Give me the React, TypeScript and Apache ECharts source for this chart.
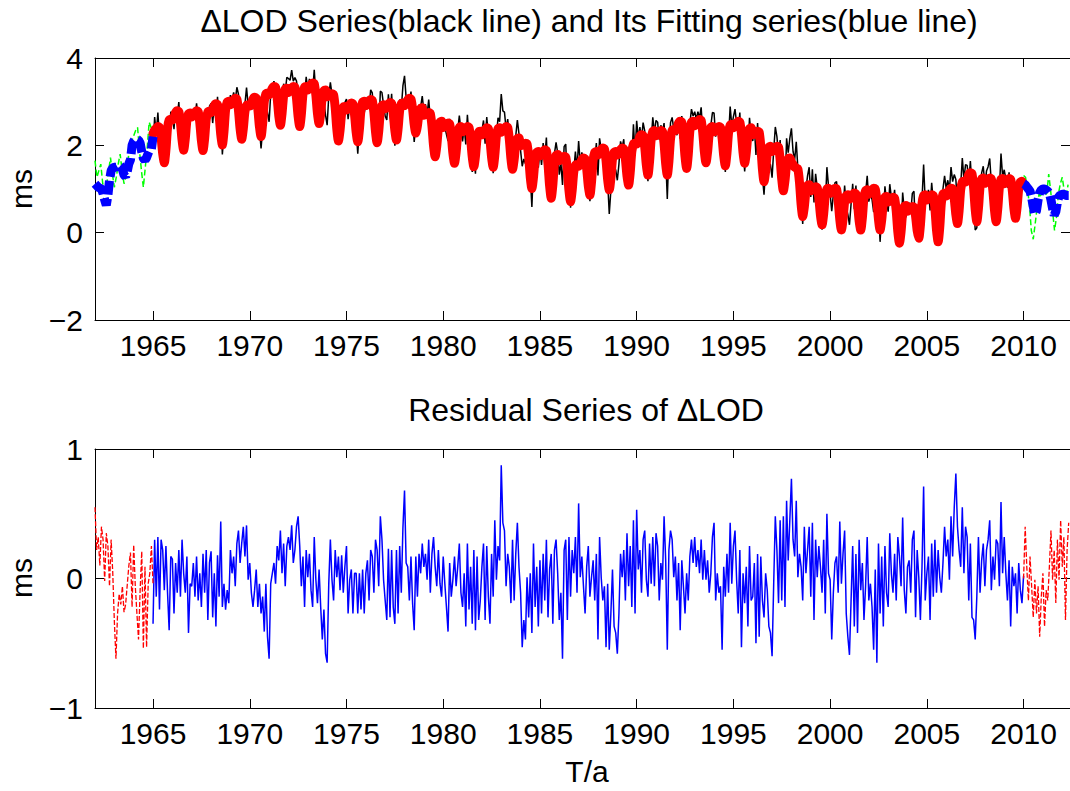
import React, { useEffect, useRef } from "react";
import * as echarts from "echarts";

const FONT = "'Liberation Sans', Arial, Helvetica, sans-serif";
const X_MIN = 1962;
const X_MAX = 2012.4;
const TICK_YEARS = [1965, 1970, 1975, 1980, 1985, 1990, 1995, 2000, 2005, 2010];

const TITLE_TOP = "\u0394LOD Series(black line) and Its Fitting series(blue line)";
const TITLE_BOTTOM = "Residual Series of \u0394LOD";
const Y_NAME = "ms";
const X_NAME = "T/a";

// Fitting series (red), monthly samples from 1965.0 to 2010.0
const FIT_START = 1965;
const fitValues = [
  2.27, 2.35, 2.39, 2.43, 2.41, 2.18, 1.81, 1.60, 1.90, 2.40, 2.58, 2.60,
  2.58, 2.64, 2.75, 2.79, 2.77, 2.52, 2.12, 1.89, 2.15, 2.57, 2.72, 2.74,
  2.65, 2.71, 2.75, 2.79, 2.77, 2.52, 2.11, 1.88, 2.15, 2.60, 2.76, 2.78,
  2.75, 2.81, 2.91, 2.95, 2.93, 2.67, 2.25, 2.01, 2.31, 2.81, 2.99, 3.01,
  2.93, 2.99, 3.04, 3.08, 3.06, 2.80, 2.38, 2.14, 2.38, 2.77, 2.91, 2.93,
  2.90, 2.96, 3.06, 3.10, 3.08, 2.83, 2.43, 2.20, 2.50, 3.00, 3.18, 3.20,
  3.16, 3.22, 3.31, 3.35, 3.33, 3.08, 2.68, 2.46, 2.72, 3.14, 3.29, 3.31,
  3.21, 3.27, 3.31, 3.35, 3.33, 3.07, 2.66, 2.43, 2.71, 3.17, 3.33, 3.35,
  3.27, 3.33, 3.39, 3.43, 3.41, 3.15, 2.73, 2.50, 2.73, 3.12, 3.25, 3.27,
  3.11, 3.17, 3.14, 3.18, 3.16, 2.86, 2.37, 2.10, 2.34, 2.73, 2.87, 2.89,
  2.81, 2.87, 2.93, 2.97, 2.95, 2.70, 2.30, 2.08, 2.36, 2.82, 2.99, 3.01,
  2.91, 2.97, 3.01, 3.05, 3.03, 2.75, 2.31, 2.06, 2.32, 2.76, 2.91, 2.93,
  2.84, 2.90, 2.94, 2.98, 2.96, 2.72, 2.34, 2.12, 2.38, 2.80, 2.95, 2.97,
  2.91, 2.97, 3.04, 3.08, 3.06, 2.84, 2.48, 2.28, 2.45, 2.74, 2.84, 2.86,
  2.69, 2.75, 2.71, 2.75, 2.73, 2.45, 1.99, 1.74, 1.98, 2.39, 2.53, 2.55,
  2.41, 2.47, 2.47, 2.51, 2.49, 2.23, 1.82, 1.59, 1.84, 2.26, 2.41, 2.43,
  2.31, 2.37, 2.39, 2.43, 2.41, 2.15, 1.74, 1.51, 1.75, 2.16, 2.30, 2.32,
  2.24, 2.30, 2.36, 2.40, 2.38, 2.13, 1.73, 1.50, 1.77, 2.22, 2.38, 2.40,
  2.30, 2.36, 2.39, 2.43, 2.41, 2.14, 1.70, 1.45, 1.67, 2.03, 2.15, 2.17,
  1.99, 2.05, 2.01, 2.05, 2.03, 1.74, 1.27, 1.01, 1.27, 1.69, 1.84, 1.86,
  1.76, 1.82, 1.86, 1.90, 1.88, 1.57, 1.07, 0.79, 1.09, 1.59, 1.77, 1.79,
  1.65, 1.71, 1.71, 1.75, 1.73, 1.44, 0.97, 0.71, 0.97, 1.39, 1.54, 1.56,
  1.52, 1.58, 1.67, 1.71, 1.69, 1.46, 1.07, 0.86, 1.16, 1.66, 1.84, 1.86,
  1.78, 1.84, 1.90, 1.94, 1.92, 1.65, 1.22, 0.98, 1.24, 1.68, 1.84, 1.86,
  1.78, 1.84, 1.90, 1.94, 1.92, 1.69, 1.30, 1.09, 1.38, 1.86, 2.03, 2.05,
  2.03, 2.09, 2.20, 2.24, 2.22, 1.96, 1.55, 1.32, 1.63, 2.14, 2.32, 2.34,
  2.22, 2.28, 2.30, 2.34, 2.32, 2.03, 1.58, 1.32, 1.63, 2.15, 2.34, 2.36,
  2.34, 2.40, 2.51, 2.55, 2.53, 2.23, 1.74, 1.47, 1.79, 2.33, 2.53, 2.55,
  2.45, 2.51, 2.55, 2.59, 2.57, 2.29, 1.85, 1.60, 1.85, 2.26, 2.41, 2.43,
  2.31, 2.37, 2.39, 2.43, 2.41, 2.16, 1.76, 1.53, 1.82, 2.29, 2.46, 2.48,
  2.40, 2.46, 2.51, 2.55, 2.53, 2.26, 1.83, 1.59, 1.83, 2.24, 2.38, 2.40,
  2.24, 2.30, 2.28, 2.32, 2.30, 1.98, 1.46, 1.17, 1.41, 1.82, 1.96, 1.98,
  1.86, 1.92, 1.94, 1.98, 1.96, 1.67, 1.22, 0.96, 1.19, 1.56, 1.69, 1.71,
  1.62, 1.56, 1.50, 1.48, 1.46, 1.15, 0.65, 0.37, 0.59, 0.95, 1.08, 1.10,
  0.96, 1.02, 1.01, 1.05, 1.03, 0.79, 0.40, 0.18, 0.43, 0.85, 1.00, 1.02,
  0.90, 0.96, 0.98, 1.02, 1.00, 0.73, 0.30, 0.06, 0.30, 0.71, 0.85, 0.87,
  0.77, 0.83, 0.87, 0.91, 0.89, 0.66, 0.27, 0.06, 0.34, 0.80, 0.96, 0.98,
  0.88, 0.94, 0.98, 1.02, 1.00, 0.73, 0.30, 0.06, 0.29, 0.68, 0.81, 0.83,
  0.70, 0.76, 0.77, 0.81, 0.79, 0.50, 0.02, -0.24, 0.02, 0.45, 0.60, 0.62,
  0.49, 0.55, 0.56, 0.60, 0.58, 0.38, 0.05, -0.13, 0.17, 0.67, 0.85, 0.87,
  0.75, 0.81, 0.83, 0.87, 0.85, 0.55, 0.06, -0.21, 0.12, 0.68, 0.88, 0.90,
  0.84, 0.90, 0.98, 1.02, 1.00, 0.78, 0.41, 0.21, 0.50, 0.99, 1.16, 1.18,
  1.16, 1.22, 1.33, 1.37, 1.35, 1.03, 0.53, 0.25, 0.55, 1.05, 1.23, 1.25,
  1.13, 1.19, 1.21, 1.25, 1.23, 0.95, 0.50, 0.25, 0.55, 1.04, 1.22, 1.24,
  1.12, 1.18, 1.20, 1.24, 1.22, 0.97, 0.56, 0.33, 0.59, 1.01, 1.16, 1.18,
  1.10,
];

// Residual series (blue, bottom panel), monthly from 1965.0 to 2010.0
const residualValues = [
  -0.35, 0.30, -0.14, 0.32, -0.24, 0.30, 0.22, -0.09, 0.25, -0.11, -0.40, 0.17,
  0.15, -0.27, 0.12, -0.11, 0.22, -0.14, 0.30, 0.04, -0.11, 0.17, -0.42, -0.04,
  -0.06, 0.12, -0.14, 0.17, -0.17, 0.04, -0.22, 0.19, -0.11, 0.22, -0.32, 0.12,
  0.21, -0.30, 0.04, -0.37, 0.18, -0.14, 0.44, -0.22, -0.04, -0.24, -0.09, -0.19,
  0.22, 0.04, 0.17, -0.06, 0.27, 0.37, 0.12, 0.27, 0.40, 0.17, 0.41, -0.01,
  0.12, -0.11, -0.22, -0.09, 0.07, -0.22, -0.04, -0.27, -0.14, -0.41, -0.04, -0.45,
  -0.62, -0.04, 0.04, 0.12, -0.04, 0.25, 0.14, 0.37, 0.04, 0.27, -0.06, 0.25,
  0.32, 0.22, 0.41, 0.12, 0.22, 0.40, 0.48, 0.25, -0.06, 0.17, -0.22, 0.22,
  0.01, 0.19, -0.09, -0.22, 0.32, -0.01, -0.19, 0.07, -0.22, -0.47, -0.24, -0.58,
  -0.65, -0.04, 0.30, -0.01, -0.17, 0.22, 0.01, 0.17, -0.09, 0.18, -0.11, 0.09,
  0.25, -0.27, -0.01, 0.07, -0.27, 0.04, 0.04, -0.27, 0.04, -0.24, 0.07, -0.27,
  0.04, 0.14, -0.17, 0.22, 0.17, -0.11, 0.30, 0.22, -0.06, 0.48, 0.30, -0.01,
  -0.17, -0.32, 0.23, -0.30, 0.22, -0.22, -0.35, 0.22, -0.27, 0.25, -0.11, 0.39,
  0.68, 0.12, 0.09, -0.17, 0.17, -0.19, -0.40, 0.17, -0.14, 0.19, 0.04, 0.27,
  0.09, 0.19, -0.01, 0.30, -0.11, 0.19, 0.32, 0.09, -0.06, 0.22, -0.04, -0.14,
  0.17, -0.04, -0.22, -0.41, 0.12, -0.14, -0.01, 0.17, -0.06, 0.09, 0.27, -0.11,
  -0.22, 0.04, -0.37, 0.27, -0.24, 0.09, -0.35, 0.22, -0.40, 0.17, -0.32, -0.17,
  0.09, 0.27, -0.32, 0.25, -0.14, -0.35, 0.19, -0.14, 0.45, -0.01, 0.25, 0.14,
  0.875, 0.43, 0.37, -0.06, 0.19, 0.09, -0.19, 0.30, -0.17, 0.19, 0.43, 0.09,
  -0.11, -0.53, -0.32, -0.47, 0.01, -0.30, 0.04, -0.42, 0.27, -0.22, 0.09, -0.37,
  0.14, -0.27, 0.19, -0.17, 0.30, -0.30, 0.07, 0.19, -0.35, 0.22, 0.30, 0.04,
  -0.32, -0.11, -0.62, 0.22, 0.30, -0.32, 0.32, -0.14, 0.22, 0.04, 0.32, -0.11,
  0.58, 0.01, 0.17, -0.06, -0.27, 0.09, 0.25, -0.14, 0.01, 0.14, -0.17, 0.19,
  -0.47, 0.32, 0.01, -0.17, -0.06, -0.53, -0.04, -0.55, -0.27, 0.07, -0.37, -0.42,
  -0.58, -0.27, 0.19, 0.01, 0.22, -0.17, 0.35, -0.06, 0.25, -0.22, 0.45, -0.27,
  0.53, 0.07, 0.22, -0.11, 0.30, 0.37, -0.01, -0.14, 0.27, -0.04, 0.32, -0.06,
  0.35, 0.25, -0.17, 0.12, -0.01, 0.48, 0.14, -0.55, 0.22, 0.37, 0.30, 0.01,
  0.17, -0.17, 0.12, -0.40, 0.14, -0.06, -0.27, 0.04, -0.17, 0.17, 0.30, 0.12,
  0.32, 0.09, 0.22, 0.04, 0.30, -0.01, 0.22, -0.01, 0.14, -0.11, 0.04, 0.32,
  0.43, -0.17, 0.04, -0.11, -0.06, -0.55, 0.09, -0.14, 0.19, -0.11, 0.43, -0.04,
  0.25, 0.37, -0.01, -0.27, 0.22, -0.53, 0.04, -0.19, 0.09, -0.37, 0.25, -0.17,
  -0.14, 0.12, -0.50, 0.19, -0.45, 0.17, -0.17, -0.30, 0.04, -0.09, -0.37, -0.42,
  -0.60, -0.04, 0.48, 0.22, -0.19, 0.45, -0.17, 0.48, -0.22, 0.60, 0.14, 0.45,
  0.77, 0.30, 0.17, 0.60, 0.01, 0.19, 0.09, -0.17, 0.40, 0.04, 0.22, 0.40,
  -0.14, 0.43, -0.32, 0.30, 0.01, 0.25, 0.09, -0.11, 0.30, -0.27, 0.50, 0.04,
  -0.01, -0.47, -0.11, 0.12, 0.17, -0.11, 0.44, -0.04, 0.19, 0.37, -0.27, -0.45,
  -0.59, -0.17, 0.25, -0.37, 0.19, -0.42, 0.30, -0.09, 0.12, -0.32, -0.06, 0.32,
  -0.17, -0.04, -0.22, -0.55, 0.07, -0.65, 0.27, -0.27, 0.17, -0.37, 0.25, -0.11,
  -0.22, 0.35, 0.04, -0.11, 0.19, -0.17, 0.32, 0.17, -0.06, 0.47, -0.09, -0.27,
  0.09, 0.14, -0.11, 0.30, 0.37, -0.30, 0.22, 0.01, -0.32, 0.09, 0.71, -0.17,
  0.04, 0.17, -0.32, 0.27, -0.14, 0.30, -0.11, 0.22, 0.01, -0.11, 0.12, 0.40,
  0.17, 0.30, -0.01, 0.48, 0.17, 0.55, 0.81, 0.40, 0.22, 0.09, 0.55, 0.04,
  0.40, 0.32, -0.17, 0.27, -0.30, -0.32, -0.47, -0.14, 0.32, -0.11, 0.14, 0.27,
  -0.06, 0.22, 0.30, 0.45, -0.09, 0.17, -0.01, 0.30, 0.27, -0.06, 0.59, 0.04,
  0.32, 0.04, -0.17, 0.14, -0.37, 0.09, -0.06, 0.04, -0.27, 0.12, -0.09, -0.19,
  0.02,
];

// Fitting series outside the fitting span (blue, thick dashed), monthly
const EARLY_START = 1962;
const blueFitEarly = [
  1.12, 1.08, 1.04, 1.02, 1.00, 0.90, 0.75, 0.63, 0.85, 1.20, 1.42, 1.48,
  1.50, 1.50, 1.52, 1.55, 1.52, 1.45, 1.32, 1.28, 1.40, 1.58, 1.67, 2.00,
  2.10, 2.14, 2.14, 2.12, 2.05, 1.85, 1.70, 1.66, 1.72, 1.82, 1.90, 1.92,
  2.20,
];
const LATE_START = 2010;
const blueFitLate = [
  1.12, 1.10, 1.05, 1.00, 0.95, 0.80, 0.60, 0.42, 0.50, 0.75, 0.92, 0.98,
  1.00, 1.00, 0.98, 0.95, 0.90, 0.75, 0.55, 0.40, 0.48, 0.70, 0.84, 0.86,
  0.88, 0.88, 0.86, 0.85, 0.85,
];

// Observed ΔLOD outside the fitting span (green, thin dashed), every 0.1 a
const greenEarly = [
  1.65, 1.27, 1.42, 1.57, 1.12, 0.96, 1.10, 1.40, 1.72, 1.34,
  1.04, 1.27, 1.57, 1.80, 1.42, 1.12, 1.27, 1.65, 1.95, 2.10,
  2.22, 2.34, 2.41, 1.88, 1.42, 1.04, 1.50, 1.95, 2.53, 2.41,
  2.35,
];
const greenLate = [
  1.31, 1.27, 1.00, 0.66, 0.05, -0.15, 0.20, 0.58, 0.89, 0.81,
  1.04, 0.85, 0.90, 1.34, 0.96, 0.50, 0.05, 0.35, 0.89, 1.12,
  1.27, 0.96, 0.81, 1.10,
];

// Residuals outside the fitting span (red, thin dashed), monthly
const redResidEarly = [
  0.55, 0.22, 0.32, 0.10, 0.40, 0.30, -0.02, 0.35, 0.25, -0.06, 0.30, 0.05,
  -0.33, -0.62, -0.27, -0.12, -0.20, -0.06, -0.26, -0.20, -0.05, 0.10, 0.20, -0.22,
  0.26, -0.06, -0.27, -0.47, -0.09, 0.21, -0.54, 0.09, -0.53, -0.04, 0.04, 0.25,
  -0.04,
];
const redResidLate = [
  0.00, 0.40, 0.09, -0.17, 0.17, -0.06, -0.30, -0.01, -0.27, -0.06, -0.45, -0.14,
  0.04, -0.37, -0.09, -0.17, 0.09, 0.37, -0.01, 0.22, -0.19, 0.30, -0.01, 0.45,
  0.09, 0.32, -0.32, 0.22, 0.43,
];

const MONTH = 1 / 12;
const TENTH = 0.1;

function toPoints(start: number, step: number, values: number[]) {
  return values.map((v, i) => [start + i * step, v]);
}

// Observed ΔLOD = fitting series + residual (same monthly epochs)
const observed = fitValues.map((f, i) => [FIT_START + i * MONTH, +(f + residualValues[i]).toFixed(3)]);

const minusFmt = (v: number) => String(v).replace("-", "\u2212");
const plainFmt = (v: number) => String(v);

function xAxis(gridIndex: number, position: "top" | "bottom", showLabel: boolean) {
  return {
    type: "value",
    gridIndex,
    position,
    min: X_MIN,
    max: X_MAX,
    axisLine: { show: true, onZero: false, lineStyle: { color: "#000", width: 1 } },
    axisTick: { show: true, inside: true, length: 9, customValues: TICK_YEARS, lineStyle: { color: "#000", width: 1 } },
    axisLabel: {
      show: showLabel,
      customValues: TICK_YEARS,
      margin: 10,
      fontSize: 30,
      color: "#000",
      fontFamily: FONT,
      formatter: plainFmt,
    },
    splitLine: { show: false },
  };
}

function yAxis(gridIndex: number, position: "left" | "right", min: number, max: number, interval: number, showLabel: boolean) {
  return {
    type: "value",
    gridIndex,
    position,
    min,
    max,
    interval,
    axisLine: { show: true, onZero: false, lineStyle: { color: "#000", width: 1 } },
    axisTick: { show: true, inside: true, length: 9, lineStyle: { color: "#000", width: 1 } },
    axisLabel: {
      show: showLabel,
      margin: 12,
      fontSize: 30,
      color: "#000",
      fontFamily: FONT,
      formatter: minusFmt,
    },
    splitLine: { show: false },
  };
}

export default function App() {
  const ref = useRef<HTMLDivElement>(null);

  useEffect(() => {
    if (!ref.current) return;
    const chart = echarts.init(ref.current, undefined, { renderer: "svg" });
    const textStyle = (text: string, size: number) => ({
      text,
      fontSize: size,
      fontFamily: FONT,
      fill: "#000",
      align: "center",
      verticalAlign: "middle",
    });
    chart.setOption({
      animation: false,
      backgroundColor: "#fff",
      grid: [
        { left: 95, top: 58, width: 977, height: 262, containLabel: false },
        { left: 95, top: 449, width: 977, height: 259, containLabel: false },
      ],
      xAxis: [
        xAxis(0, "bottom", true),
        xAxis(0, "top", false),
        xAxis(1, "bottom", true),
        xAxis(1, "top", false),
      ],
      yAxis: [
        yAxis(0, "left", -2, 4, 2, true),
        yAxis(0, "right", -2, 4, 2, false),
        yAxis(1, "left", -1, 1, 1, true),
        yAxis(1, "right", -1, 1, 1, false),
      ],
      graphic: [
        { type: "text", x: 589, y: 21, style: textStyle(TITLE_TOP, 32) },
        { type: "text", x: 586, y: 410, style: textStyle(TITLE_BOTTOM, 32) },
        { type: "text", x: 587, y: 771, style: textStyle(X_NAME, 30) },
        { type: "text", x: 21, y: 189, rotation: Math.PI / 2, style: textStyle(Y_NAME, 30) },
        { type: "text", x: 21, y: 578, rotation: Math.PI / 2, style: textStyle(Y_NAME, 30) },
      ],
      series: [
        {
          type: "line",
          name: "observed",
          xAxisIndex: 0,
          yAxisIndex: 0,
          data: observed,
          showSymbol: false,
          symbol: "none",
          lineStyle: { color: "#000", width: 1.5 },
          z: 2,
        },
        {
          type: "line",
          name: "observed early",
          xAxisIndex: 0,
          yAxisIndex: 0,
          data: toPoints(EARLY_START, TENTH, greenEarly),
          showSymbol: false,
          symbol: "none",
          lineStyle: { color: "#00ff00", width: 1.5, type: [6, 3] },
          z: 2,
        },
        {
          type: "line",
          name: "observed late",
          xAxisIndex: 0,
          yAxisIndex: 0,
          data: toPoints(LATE_START, TENTH, greenLate),
          showSymbol: false,
          symbol: "none",
          lineStyle: { color: "#00ff00", width: 1.5, type: [6, 3] },
          z: 2,
        },
        {
          type: "line",
          name: "fit",
          xAxisIndex: 0,
          yAxisIndex: 0,
          data: toPoints(FIT_START, MONTH, fitValues),
          showSymbol: false,
          symbol: "none",
          smooth: 0.25,
          lineStyle: { color: "#ff0000", width: 9, cap: "round", join: "round" },
          z: 3,
        },
        {
          type: "line",
          name: "fit early",
          xAxisIndex: 0,
          yAxisIndex: 0,
          data: toPoints(EARLY_START, MONTH, blueFitEarly),
          showSymbol: false,
          symbol: "none",
          lineStyle: { color: "#0000ff", width: 9, type: [14, 4], cap: "butt" },
          z: 4,
        },
        {
          type: "line",
          name: "fit late",
          xAxisIndex: 0,
          yAxisIndex: 0,
          data: toPoints(LATE_START, MONTH, blueFitLate),
          showSymbol: false,
          symbol: "none",
          lineStyle: { color: "#0000ff", width: 9, type: [14, 4], cap: "butt" },
          z: 4,
        },
        {
          type: "line",
          name: "residual",
          xAxisIndex: 2,
          yAxisIndex: 2,
          data: toPoints(FIT_START, MONTH, residualValues),
          showSymbol: false,
          symbol: "none",
          lineStyle: { color: "#0000ff", width: 1.5 },
          z: 2,
        },
        {
          type: "line",
          name: "residual early",
          xAxisIndex: 2,
          yAxisIndex: 2,
          data: toPoints(EARLY_START, MONTH, redResidEarly),
          showSymbol: false,
          symbol: "none",
          lineStyle: { color: "#ff0000", width: 1.3, type: [5, 2] },
          z: 2,
        },
        {
          type: "line",
          name: "residual late",
          xAxisIndex: 2,
          yAxisIndex: 2,
          data: toPoints(LATE_START, MONTH, redResidLate),
          showSymbol: false,
          symbol: "none",
          lineStyle: { color: "#ff0000", width: 1.3, type: [5, 2] },
          z: 2,
        },
      ],
    });
    return () => chart.dispose();
  }, []);

  return (
    <div
      ref={ref}
      style={{ position: "absolute", left: 0, top: 0, width: 1070, height: 791, background: "#fff" }}
    />
  );
}
